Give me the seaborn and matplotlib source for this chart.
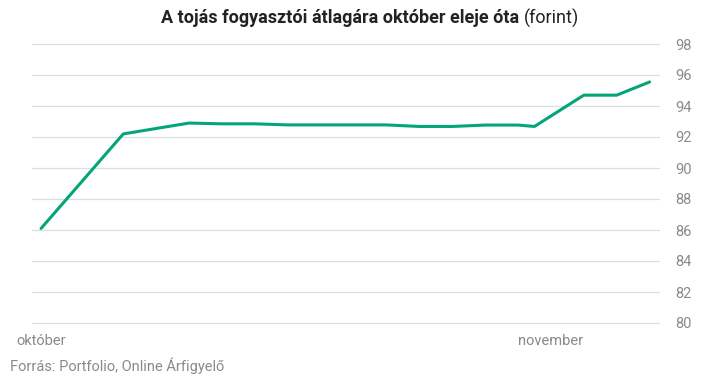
import matplotlib
matplotlib.use("Agg")
import matplotlib.pyplot as plt
import seaborn as sns
import pandas as pd

# napok október 1-től számolva
days = [0, 5, 9, 11, 13, 15, 21, 23, 25, 27, 29, 30, 33, 35, 37]
prices = [86.1, 92.2, 92.9, 92.85, 92.85, 92.78, 92.78, 92.68, 92.68, 92.77, 92.77, 92.68, 94.7, 94.7, 95.55]
month_ticks = [0, 31]
month_labels = ["október", "november"]
y_ticks = [80, 82, 84, 86, 88, 90, 92, 94, 96, 98]

df = pd.DataFrame({"nap": days, "ar": prices})

sns.set_theme(style="white")
plt.rcParams["font.family"] = ["Roboto", "DejaVu Sans"]

fig = plt.figure(figsize=(7.17, 3.76), dpi=100)
ax = fig.add_axes([32 / 717, 1 - 323 / 376, 627 / 717, 279 / 376])

for y in y_ticks:
    ax.axhline(y, color="#d8e0e0", lw=0.9, zorder=0, clip_on=False)

sns.lineplot(data=df, x="nap", y="ar", ax=ax, color="#05a57a", lw=2.2)

ax.set_xlim(-0.55, 37.57)
ax.set_ylim(80, 98)
ax.yaxis.tick_right()
ax.set_yticks(y_ticks)
ax.set_yticklabels([str(v) for v in y_ticks], color="#8a8a8a", fontsize=10.5)
ax.set_xticks(month_ticks)
ax.set_xticklabels(month_labels, color="#8a8a8a", fontsize=10.5)
ax.tick_params(axis="y", length=0, pad=12)
ax.tick_params(axis="x", length=0, pad=8)
ax.set_xlabel("")
ax.set_ylabel("")
for s in ax.spines.values():
    s.set_visible(False)

# cím: félkövér rész + normál rész
fig.canvas.draw()
r = fig.canvas.get_renderer()
t1 = fig.text(0, 1 - 18 / 376, "A tojás fogyasztói átlagára október eleje óta ", fontsize=13,
              fontweight="bold", color="#222222", va="center")
t2 = fig.text(0, 1 - 18 / 376, "(forint)", fontsize=13, color="#222222", va="center")
w1 = t1.get_window_extent(r).width
w2 = t2.get_window_extent(r).width
x0 = 370 - (w1 + w2) / 2
t1.set_x(x0 / 717)
t2.set_x((x0 + w1) / 717)

fig.text(10 / 717, 1 - 366 / 376, "Forrás: Portfolio, Online Árfigyelő", fontsize=10.5,
         color="#8a8a8a", va="center")

fig.savefig("out.png", dpi=100)
